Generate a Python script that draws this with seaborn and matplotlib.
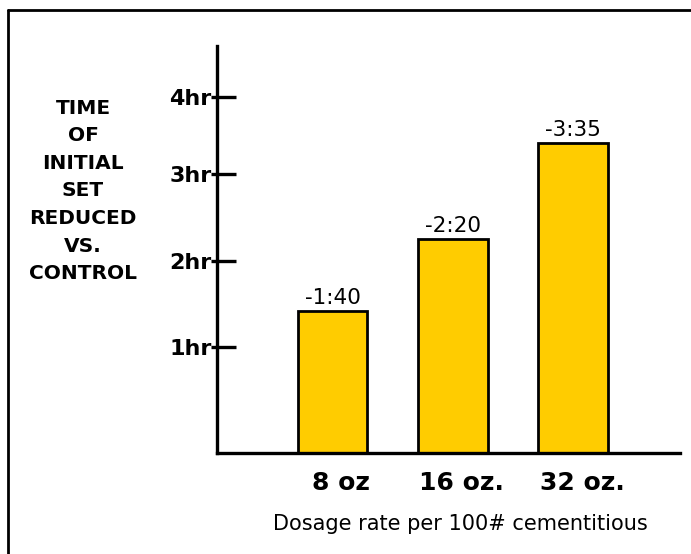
import matplotlib
matplotlib.use("Agg")
import matplotlib.pyplot as plt
import matplotlib.lines as mlines
from matplotlib.transforms import ScaledTranslation
import seaborn as sns
import pandas as pd

# ---- data ----
categories = ["8 oz", "16 oz.", "32 oz."]
bar_heights = [1.60, 2.40, 3.48]          # bar heights in the drawn hour scale
bar_labels = ["-1:40", "-2:20", "-3:35"]
ytick_positions = [1.19, 2.16, 3.13, 4.0]  # where the hour ticks are drawn
ytick_labels = ["1hr", "2hr", "3hr", "4hr"]
ylabel_text = "TIME\nOF\nINITIAL\nSET\nREDUCED\nVS.\nCONTROL"
xlabel_text = "Dosage rate per 100# cementitious"

sns.set_theme(style="white")
plt.rcParams["font.family"] = ["DejaVu Sans"]
plt.rcParams["text.color"] = "black"
plt.rcParams["xtick.color"] = "black"
plt.rcParams["ytick.color"] = "black"
plt.rcParams["axes.labelcolor"] = "black"

W, H = 691, 554
fig = plt.figure(figsize=(W / 100, H / 100), dpi=100)
ax = fig.add_axes([217 / W, 1 - 453 / H, (680 - 217) / W, (453 - 46) / H])

df = pd.DataFrame({"dose": categories, "hours": bar_heights})
sns.barplot(data=df, x="dose", y="hours", ax=ax, color="#FFCC00",
            saturation=1, width=0.58, edgecolor="black", linewidth=2.0)

ax.set_xlim(-0.96, 2.89)
ax.set_ylim(0, 4.57)

for sp in ["top", "right"]:
    ax.spines[sp].set_visible(False)
for sp in ["left", "bottom"]:
    ax.spines[sp].set_linewidth(2.4)
    ax.spines[sp].set_color("black")

ax.set_yticks(ytick_positions)
ax.set_yticklabels(ytick_labels, fontsize=16, fontweight="bold", color="black")
ax.set_yticks(ytick_positions, minor=True)
ax.yaxis.remove_overlapping_locs = False
ax.tick_params(axis="y", which="major", direction="in", length=14, width=2.4,
               color="black", pad=4, left=True)
ax.tick_params(axis="y", which="minor", direction="out", length=4, width=2.4,
               color="black", left=True)

ax.set_xticks(range(len(categories)))
ax.set_xticklabels(categories, fontsize=18, fontweight="bold", color="black")
ax.tick_params(axis="x", which="both", length=0, pad=13)
shift = ScaledTranslation(9 / 100, 0, fig.dpi_scale_trans)
for lab in ax.get_xticklabels():
    lab.set_transform(lab.get_transform() + shift)

ax.set_xlabel(xlabel_text, fontsize=15, labelpad=10, color="black")
ax.xaxis.set_label_coords((460 - 217) / (680 - 217), -(524 - 453) / (453 - 46))
ax.xaxis.label.set_va("center")
ax.set_ylabel("")

for i, (h, lab) in enumerate(zip(bar_heights, bar_labels)):
    ax.annotate(lab, (i, h), xytext=(0, 2), textcoords="offset points",
                ha="center", va="bottom", fontsize=15.5, color="black")

fig.text(83 / W, 1 - 191 / H, ylabel_text, ha="center", va="center",
         fontsize=14.5, fontweight="bold", linespacing=1.57, color="black")

# outer frame (top and left edges visible)
fig.add_artist(mlines.Line2D([8 / W, 1.0], [1 - 10 / H, 1 - 10 / H],
                             transform=fig.transFigure, color="black", lw=2))
fig.add_artist(mlines.Line2D([8 / W, 8 / W], [0, 1 - 10 / H],
                             transform=fig.transFigure, color="black", lw=2))

fig.savefig("out.png", dpi=100, facecolor="white")
